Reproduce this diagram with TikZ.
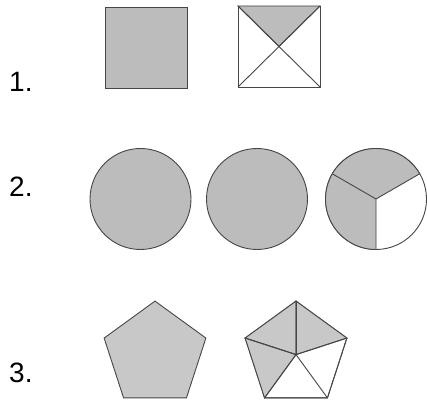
\documentclass[tikz,border=0pt]{standalone}
\usepackage{tikz}
\usetikzlibrary{positioning, shapes.geometric}
\usepackage{xcolor}
\usepackage{fontspec}
\setmainfont{Liberation Sans}
\definecolor{shadegray}{RGB}{188,188,188}
\definecolor{shadelight}{RGB}{200,200,200}
\definecolor{edgegray}{RGB}{70,70,70}

\begin{document}
\begin{tikzpicture}[
    x=1pt, y=1pt,
    edge/.style={draw=edgegray, line width=0.9pt},
    num/.style={anchor=base west, inner sep=0pt, font=\fontsize{28}{30}\selectfont},
    sq/.style={edge, rectangle, minimum width=82pt, minimum height=81pt, inner sep=0pt, outer sep=0pt},
    disc/.style={edge, circle, minimum size=101pt, inner sep=0pt, outer sep=0pt},
    penta/.style={edge, regular polygon, regular polygon sides=5, minimum size=107pt, inner sep=0pt, outer sep=0pt}
]
    \useasboundingbox (0,0) rectangle (427,401);

    % row 1
    \node[num] (one) at (9,309) {1.};
    \node[sq, fill=shadegray] (sqa) at (146.5,353) {};
    \node[sq, fill=white] (sqb) at (279,354.5) {};
    \filldraw[edge, fill=shadegray] (sqb.north west) -- (sqb.north east) -- (sqb.center) -- cycle;
    \draw[edge] (sqb.north west) -- (sqb.south east);
    \draw[edge] (sqb.north east) -- (sqb.south west);

    % row 2
    \node[num] (two) at (9,204) {2.};
    \node[disc, fill=shadegray] (cira) at (140.5,202) {};
    \node[disc, fill=shadegray] (cirb) at (257,202) {};
    \node[disc, fill=white] (circ) at (376,202) {};
    \filldraw[edge, fill=shadegray] (circ.center) -- (circ.30) arc[start angle=30, end angle=270, radius=50.5pt] -- cycle;
    \draw[edge] (circ.center) -- (circ.150);

    % row 3
    \node[num] (three) at (9,19) {3.};
    \node[penta, fill=shadelight] (pena) at (155,46.4) {};
    \node[penta, fill=white] (penb) at (296,46.4) {};
    \filldraw[edge, fill=shadelight] (penb.corner 1) -- (penb.corner 2) -- (penb.center) -- cycle;
    \filldraw[edge, fill=shadelight] (penb.corner 1) -- (penb.corner 5) -- (penb.center) -- cycle;
    \filldraw[edge, fill=shadelight] (penb.corner 2) -- (penb.corner 3) -- (penb.center) -- cycle;
    \foreach \k in {1,...,5}
        \draw[edge] (penb.center) -- (penb.corner \k);
    \draw[edge] (penb.corner 3) -- (penb.corner 4) -- (penb.corner 5);

\end{tikzpicture}
\end{document}
